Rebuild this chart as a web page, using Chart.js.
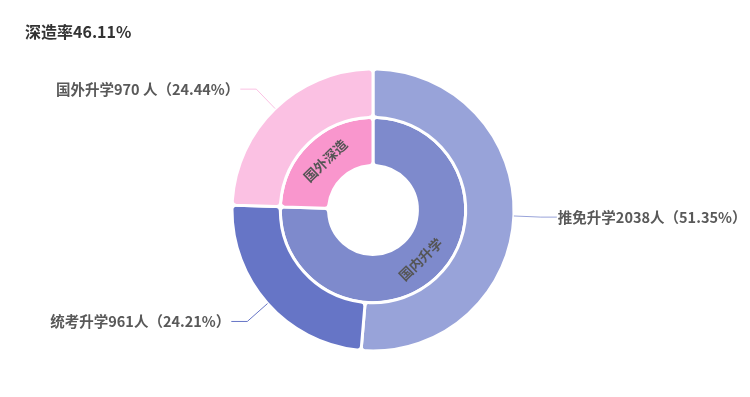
<!DOCTYPE html>
<html>
<head>
<meta charset="utf-8">
<script src="https://cdn.jsdelivr.net/npm/chart.js@4.4.0/dist/chart.umd.min.js"></script>
<style>
    body { margin: 0; background: #fff; }
    #wrap { position: relative; width: 750px; height: 397px; }
</style>
</head>
<body>
<div id="wrap"><canvas id="donutChart"></canvas></div>
<script>
// data
var titleText = '深造率46.11%';
var outerLabels = ['推免升学', '统考升学', '国外升学'];
var outerCounts = [2038, 961, 970];
var outerUnits = ['人', '人', ' 人'];
var outerColors = ['#98a3d9', '#6675c6', '#fbc1e3'];
var innerLabels = ['国内升学', '国外深造'];
var innerCounts = [2999, 970];
var innerColors = ['#7e8acc', '#f996cd'];

var fontFamily = "'Noto Sans CJK SC', 'Noto Sans', sans-serif";

var labelPlugin = {
    id: 'sliceLabels',
    afterDatasetsDraw: function(chart) {
        var ctx = chart.ctx;
        ctx.save();

        // title
        ctx.fillStyle = '#333';
        ctx.font = 'bold 16px ' + fontFamily;
        ctx.textAlign = 'left';
        ctx.textBaseline = 'middle';
        ctx.fillText(titleText, 25, 32);

        // outer ring labels with leader lines
        var total = outerCounts.reduce(function(a, b) { return a + b; }, 0);
        var len1 = 27, len2 = 16, gap = 1;
        chart.getDatasetMeta(0).data.forEach(function(arc, i) {
            var p = arc.getProps(['x', 'y', 'startAngle', 'endAngle', 'outerRadius'], true);
            var mid = (p.startAngle + p.endAngle) / 2;
            var c = Math.cos(mid), s = Math.sin(mid);
            var x0 = p.x + c * p.outerRadius, y0 = p.y + s * p.outerRadius;
            var x1 = p.x + c * (p.outerRadius + len1), y1 = p.y + s * (p.outerRadius + len1);
            var dir = c >= 0 ? 1 : -1;
            var x2 = x1 + dir * len2;
            ctx.strokeStyle = outerColors[i];
            ctx.lineWidth = 1;
            ctx.beginPath();
            ctx.moveTo(x0, y0);
            ctx.lineTo(x1, y1);
            ctx.lineTo(x2, y1);
            ctx.stroke();

            var pct = ((outerCounts[i] / total) * 100).toFixed(2) + '%';
            var text = outerLabels[i] + outerCounts[i] + outerUnits[i] + '（' + pct + '）';
            ctx.fillStyle = '#595959';
            ctx.font = 'bold 14.5px ' + fontFamily;
            ctx.textAlign = dir > 0 ? 'left' : 'right';
            ctx.textBaseline = 'middle';
            ctx.fillText(text, x2 + dir * gap, y1);
        });

        // inner ring labels, tangential
        chart.getDatasetMeta(1).data.forEach(function(arc, i) {
            var p = arc.getProps(['x', 'y', 'startAngle', 'endAngle', 'innerRadius', 'outerRadius'], true);
            var mid = (p.startAngle + p.endAngle) / 2;
            var r = (p.innerRadius + p.outerRadius) / 2;
            var rot = mid + Math.PI / 2;
            while (rot > Math.PI / 2) rot -= Math.PI;
            while (rot <= -Math.PI / 2) rot += Math.PI;
            ctx.save();
            ctx.translate(p.x + Math.cos(mid) * r, p.y + Math.sin(mid) * r);
            ctx.rotate(rot);
            ctx.fillStyle = '#555';
            ctx.font = 'bold 13.5px ' + fontFamily;
            ctx.textAlign = 'center';
            ctx.textBaseline = 'middle';
            ctx.fillText(innerLabels[i], 0, 0);
            ctx.restore();
        });

        ctx.restore();
    }
};

var donutCanvas = document.getElementById('donutChart').getContext('2d');
var donutChart = new Chart(donutCanvas, {
    type: 'doughnut',
    data: {
        labels: outerLabels,
        datasets: [{
            data: outerCounts,
            backgroundColor: outerColors,
            borderColor: '#fff',
            borderWidth: 3,
            borderRadius: 4
        }, {
            data: innerCounts,
            backgroundColor: innerColors,
            borderColor: '#fff',
            borderWidth: 3,
            borderRadius: 4
        }]
    },
    options: {
        responsive: true,
        maintainAspectRatio: false,
        animation: false,
        radius: 141,
        cutout: '31.5%',
        layout: {
            padding: { top: 23, bottom: 0, left: 0, right: 4 }
        },
        plugins: {
            legend: { display: false },
            tooltip: { enabled: false },
            title: { display: false }
        }
    },
    plugins: [labelPlugin]
});
</script>
</body>
</html>
